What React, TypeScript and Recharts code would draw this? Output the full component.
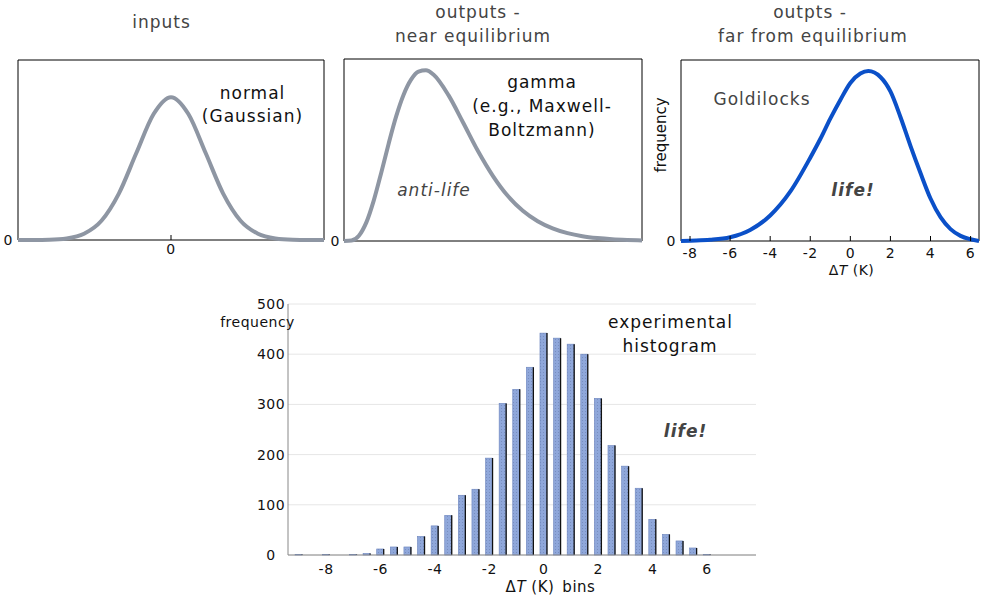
import React from 'react';
import { LineChart, Line, XAxis, YAxis, ReferenceArea, BarChart, Bar, CartesianGrid } from 'recharts';

const FONT = '"DejaVu Sans", Verdana, sans-serif';
const GRAY = '#8E96A3';
const BLUE = '#0B50C8';
const TXT = '#444444';
const INK = '#111111';

// Panel 1: normal (Gaussian) input curve
const normalX = [-4.4, -4, -3.5, -3, -2.5, -2, -1.5, -1, -0.5, 0, 0.5, 1, 1.5, 2, 2.5, 3, 3.5, 4, 4.4];
const normalY = [0, 0.0003, 0.002, 0.011, 0.044, 0.135, 0.325, 0.607, 0.882, 1, 0.882, 0.607, 0.325, 0.135, 0.044, 0.011, 0.002, 0.0003, 0];

// Panel 2: gamma output curve
const gammaX = [0, 0.25, 0.5, 0.75, 1, 1.25, 1.5, 1.75, 2, 2.25, 2.5, 2.75, 3, 3.5, 4, 4.5, 5, 5.5, 6, 6.5, 7, 7.5, 8, 8.5, 9, 9.5, 10];
const gammaY = [0, 0.003, 0.031, 0.109, 0.238, 0.4, 0.571, 0.729, 0.856, 0.944, 0.991, 0.999, 0.974, 0.855, 0.692, 0.525, 0.38, 0.263, 0.177, 0.116, 0.074, 0.046, 0.028, 0.017, 0.01, 0.006, 0.0035];

// Panel 3: Goldilocks curve
const goldX = [-8.45, -8, -7, -6, -5, -4, -3, -2, -1.5, -1, -0.5, 0, 0.5, 0.9, 1.5, 2, 2.5, 3, 3.5, 4, 4.5, 5, 5.5, 6, 6.42];
const goldY = [0, 0.002, 0.007, 0.022, 0.065, 0.15, 0.29, 0.49, 0.6, 0.72, 0.83, 0.93, 0.985, 1, 0.965, 0.88, 0.73, 0.56, 0.4, 0.25, 0.14, 0.07, 0.03, 0.01, 0];
const goldTicks = [-8, -6, -4, -2, 0, 2, 4, 6];

// Histogram
const histBins = [-9, -8, -7, -6.5, -6, -5.5, -5, -4.5, -4, -3.5, -3, -2.5, -2, -1.5, -1, -0.5, 0, 0.5, 1, 1.5, 2, 2.5, 3, 3.5, 4, 4.5, 5, 5.5, 6];
const histCounts = [1, 1, 1, 3, 12, 16, 16, 37, 58, 79, 119, 131, 193, 302, 330, 374, 442, 432, 420, 400, 312, 218, 177, 133, 71, 41, 28, 14, 1];
const histXTicks = [-8, -6, -4, -2, 0, 2, 4, 6];
const histYTicks = [0, 100, 200, 300, 400, 500];

const normalData = normalX.map((x, i) => ({ x, y: normalY[i] }));
const gammaData = gammaX.map((x, i) => ({ x, y: gammaY[i] }));
const goldData = goldX.map((x, i) => ({ x, y: goldY[i] }));
const histData = histBins.map((bin, i) => ({ bin, count: histCounts[i] }));

const tickStyle = { fontFamily: FONT, fontSize: 14, fill: INK, letterSpacing: 0.5 } as const;

const makeXTick = (markBack: number, markLen: number) => (p: any) => (
  <g>
    {markLen > 0 ? (
      <line x1={p.x} x2={p.x} y1={p.y - markBack} y2={p.y - markBack - markLen} stroke="#000" strokeWidth={1} />
    ) : null}
    <text x={p.x} y={p.y} dy="0.71em" textAnchor="middle" {...tickStyle}>{p.payload.value}</text>
  </g>
);

const topMarkTick = (p: any) => (
  <line x1={p.x} x2={p.x} y1={p.y} y2={p.y + 5} stroke="#000" strokeWidth={1} />
);

const yTickEnd = (p: any) => (
  <text x={p.x} y={p.y} dy="0.35em" textAnchor="end" {...tickStyle}>{p.payload.value}</text>
);

const yTickHist = (p: any) => (
  <text x={p.x - 17} y={p.y} dy="0.35em" textAnchor="middle" {...tickStyle}>{p.payload.value}</text>
);

const HistBar = (props: any) => {
  const { x, y, width, height } = props;
  if (!height || height <= 0) return <g />;
  return (
    <g>
      <rect x={x} y={y} width={width} height={height} fill="url(#histDots)" stroke="#6B84BD" strokeWidth={0.6} />
      <line x1={x + width} x2={x + width} y1={y} y2={y + height} stroke="#111" strokeWidth={1.3} />
    </g>
  );
};

const T = (p: any) => {
  const { x, y, children, size = 17, ls = 1, fill = INK, italic, bold, anchor = 'middle', transform } = p;
  return (
    <text
      x={x}
      y={y}
      transform={transform}
      textAnchor={anchor}
      fontFamily={FONT}
      fontSize={size}
      letterSpacing={ls}
      fill={fill}
      fontStyle={italic ? 'italic' : 'normal'}
      fontWeight={bold ? 'bold' : 'normal'}
    >
      {children}
    </text>
  );
};

export default function App() {
  return (
    <div style={{ position: 'absolute', left: 0, top: 0, width: 985, height: 598, background: '#fff', overflow: 'hidden' }}>
      {/* Panel 1 */}
      <div style={{ position: 'absolute', left: 0, top: 50 }}>
        <LineChart width={340} height={230} data={normalData} margin={{ top: 10, right: 16, left: 6, bottom: 16 }}>
          <XAxis dataKey="x" type="number" domain={[-4.4, 4.4]} ticks={[0]} axisLine={false} tickLine={false}
            tickSize={0} tickMargin={4} height={24} interval={0} tick={makeXTick(4, 5)} />
          <YAxis type="number" domain={[0, 1.26]} ticks={[0]} axisLine={false} tickLine={false}
            tickSize={0} tickMargin={5} width={12} interval={0} tick={yTickEnd} />
          <ReferenceArea x1={-4.4} x2={4.4} y1={0} y2={1.26} fill="none" fillOpacity={0} stroke="#000" strokeWidth={1} strokeOpacity={1} />
          <Line dataKey="y" type="monotone" stroke={GRAY} strokeWidth={4} dot={false} isAnimationActive={false} />
        </LineChart>
      </div>

      {/* Panel 2 */}
      <div style={{ position: 'absolute', left: 330, top: 50 }}>
        <LineChart width={325} height={230} data={gammaData} margin={{ top: 9, right: 13, left: 4, bottom: 39 }}>
          <XAxis dataKey="x" type="number" domain={[0, 10]} hide />
          <YAxis type="number" domain={[0, 1.065]} ticks={[0]} axisLine={false} tickLine={false}
            tickSize={0} tickMargin={4} width={10} interval={0} tick={yTickEnd} />
          <ReferenceArea x1={0} x2={10} y1={0} y2={1.065} fill="none" fillOpacity={0} stroke="#000" strokeWidth={1} strokeOpacity={1} />
          <Line dataKey="y" type="monotone" stroke={GRAY} strokeWidth={4} dot={false} isAnimationActive={false} />
        </LineChart>
      </div>

      {/* Panel 3 */}
      <div style={{ position: 'absolute', left: 650, top: 50 }}>
        <LineChart width={335} height={235} data={goldData} margin={{ top: 10, right: 6, left: 5, bottom: 4 }}>
          <XAxis dataKey="x" type="number" domain={[-8.45, 6.42]} ticks={goldTicks} axisLine={false} tickLine={false}
            tickSize={0} tickMargin={7} height={40} interval={0} tick={makeXTick(7, 5)} allowDataOverflow />
          <XAxis xAxisId="top" orientation="top" type="number" domain={[-8.45, 6.42]} ticks={goldTicks} axisLine={false}
            tickLine={false} tickSize={0} tickMargin={0} height={0} interval={0} tick={topMarkTick} allowDataOverflow />
          <YAxis type="number" domain={[0, 1.065]} ticks={[0]} axisLine={false} tickLine={false}
            tickSize={0} tickMargin={5} width={26} interval={0} tick={yTickEnd} />
          <ReferenceArea x1={-8.45} x2={6.42} y1={0} y2={1.065} fill="none" fillOpacity={0} stroke="#000" strokeWidth={1} strokeOpacity={1} />
          <Line dataKey="y" type="monotone" stroke={BLUE} strokeWidth={4} dot={false} isAnimationActive={false} />
        </LineChart>
      </div>

      {/* Histogram */}
      <div style={{ position: 'absolute', left: 200, top: 290 }}>
        <BarChart width={580} height={308} data={histData} margin={{ top: 14, right: 24, left: 0, bottom: 0 }}>
          <CartesianGrid vertical={false} stroke="#e6e6e6" />
          <XAxis dataKey="bin" type="number" domain={[-9.4, 7.8]} ticks={histXTicks} axisLine={{ stroke: '#888' }}
            tickLine={false} tickSize={0} tickMargin={9} height={43} interval={0} tick={makeXTick(9, 0)} allowDataOverflow />
          <YAxis type="number" domain={[0, 500]} ticks={histYTicks} axisLine={{ stroke: '#888' }} tickLine={false}
            tickSize={0} tickMargin={0} width={88} interval={0} tick={yTickHist} />
          <Bar dataKey="count" barSize={7} shape={HistBar} isAnimationActive={false} />
        </BarChart>
      </div>

      {/* Text overlay */}
      <svg width={985} height={598} style={{ position: 'absolute', left: 0, top: 0, pointerEvents: 'none' }}>
        <defs>
          <pattern id="histDots" width={3} height={3} patternUnits="userSpaceOnUse">
            <rect width={3} height={3} fill="#8FA7DA" />
            <rect x={1} y={1} width={1} height={1} fill="#5A6E9E" opacity={0.45} />
          </pattern>
        </defs>
        {/* titles */}
        <T x={161.5} y={28} fill={TXT}>inputs</T>
        <T x={478} y={18} fill={TXT}>outputs -</T>
        <T x={473} y={42} fill={TXT}>near equilibrium</T>
        <T x={810} y={18} fill={TXT}>outpts -</T>
        <T x={813} y={42} fill={TXT}>far from equilibrium</T>

        {/* panel annotations */}
        <T x={252.5} y={99}>normal</T>
        <T x={252.5} y={122}>(Gaussian)</T>
        <T x={542} y={88}>gamma</T>
        <T x={542} y={112}>(e.g., Maxwell-</T>
        <T x={542} y={136}>Boltzmann)</T>
        <T x={434} y={196} fill={TXT} italic>anti-life</T>
        <T x={762} y={105} fill={TXT}>Goldilocks</T>
        <T x={853} y={196} fill={TXT} italic bold>life!</T>
        <T x={0} y={0} size={15} ls={0} fill={INK} transform="translate(666,135) rotate(-90)">frequency</T>
        <text x={851.5} y={275} textAnchor="middle" fontFamily={FONT} fontSize={14} letterSpacing={0.5} fill={INK}>
          Δ<tspan fontStyle="italic">T</tspan> (K)
        </text>

        {/* histogram annotations */}
        <T x={257.5} y={327} size={14} ls={0.5}>frequency</T>
        <T x={670.5} y={328}>experimental</T>
        <T x={670} y={352}>histogram</T>
        <T x={685.5} y={437} fill={TXT} italic bold>life!</T>
        <text x={550.5} y={592} textAnchor="middle" fontFamily={FONT} fontSize={15} letterSpacing={0.5} fill={INK}>
          Δ<tspan fontStyle="italic">T</tspan> (K)<tspan dx={8}>bins</tspan>
        </text>
      </svg>
    </div>
  );
}
